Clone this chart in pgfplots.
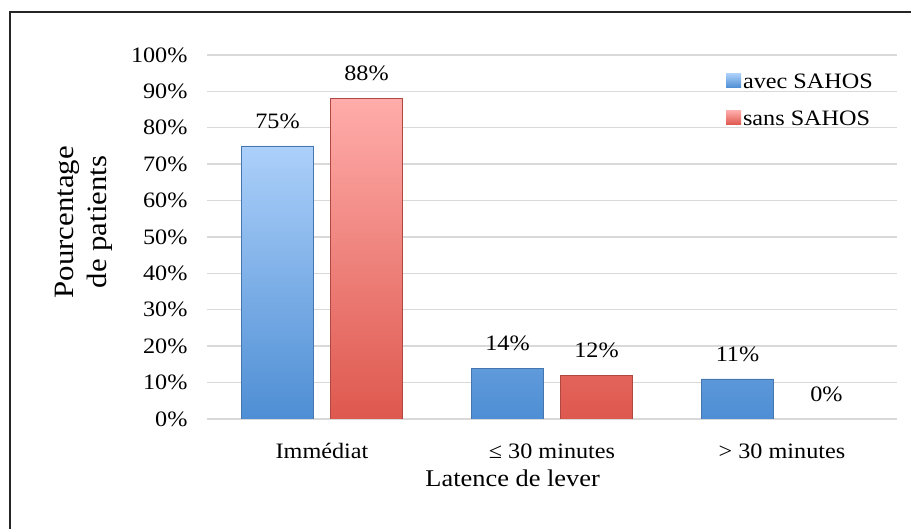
\documentclass[border=0pt]{standalone}
\usepackage{pgfplots}
\pgfplotsset{compat=1.18}
\usepackage{fontspec}
\setmainfont{Liberation Serif}[FakeStretch=1.1]
\definecolor{bluetop}{RGB}{172,208,250}
\definecolor{bluebot}{RGB}{78,142,212}
\definecolor{blueedge}{RGB}{70,118,175}
\definecolor{redtop}{RGB}{255,172,170}
\definecolor{redbot}{RGB}{222,88,78}
\definecolor{rededge}{RGB}{175,72,64}
\definecolor{gridgray}{RGB}{217,217,217}
\begin{document}
\begin{tikzpicture}
\path[use as bounding box] (0,0) rectangle (911bp,529bp);
\draw[line width=1.3bp, black!85] (10bp,0) -- (10bp,517bp) -- (911bp,517bp);
\begin{axis}[
  at={(207bp,110bp)}, anchor=south west,
  scale only axis, width=690bp, height=364bp,
  ybar, enlargelimits=false,
  xmin=-0.5, xmax=2.5, ymin=0, ymax=100,
  xtick={0,1,2},
  xticklabels={Immédiat,{≤ 30 minutes},{> 30 minutes}},
  ytick={0,10,...,100},
  yticklabel={\pgfmathprintnumber{\tick}\%},
  /pgf/number format/assume math mode=true,
  ymajorgrids, grid style={gridgray, line width=1.4bp},
  axis line style={draw=none},
  major tick length=0pt,
  tick label style={font=\fontsize{22bp}{26bp}\selectfont},
  yticklabel style={xshift=-16bp},
  xticklabel style={yshift=-21bp},
  xlabel={Latence de lever},
  xlabel style={font=\fontsize{24bp}{28bp}\selectfont, at={(axis description cs:0.443,0)}, anchor=center, yshift=-59bp},
  ylabel={Pourcentage\\de patients},
  ylabel style={font=\fontsize{28bp}{33bp}\selectfont, align=center, at={(axis description cs:-0.179,0.541)}, anchor=center, rotate=0},
  bar width=72bp,
  nodes near coords={\pgfmathprintnumber{\pgfplotspointmeta}\%},
  every node near coord/.append style={font=\fontsize{22bp}{26bp}\selectfont, black, yshift=14bp},
  legend style={draw=none, fill=none, at={(axis description cs:0.752,0.955)}, anchor=north west,
    font=\fontsize{22bp}{26bp}\selectfont, row sep=17bp, inner sep=0pt},
  legend cell align=left,
  legend image code/.code={\path[#1, draw=none] (0bp,-6bp) rectangle (15bp,8bp);},
]
\addplot[bar shift=-44.5bp, top color=bluetop, bottom color=bluebot, draw=blueedge, line width=0.6bp]
  coordinates {(0,75) (1,14) (2,11)};
\addlegendentry{avec SAHOS}
\addplot[bar shift=44.5bp, top color=redtop, bottom color=redbot, draw=rededge, line width=0.6bp]
  coordinates {(0,88) (1,12)};
\addlegendentry{sans SAHOS}
\addplot[bar shift=44.5bp, draw=none, fill=none, forget plot]
  coordinates {(2,0)};
\end{axis}
\end{tikzpicture}
\end{document}
